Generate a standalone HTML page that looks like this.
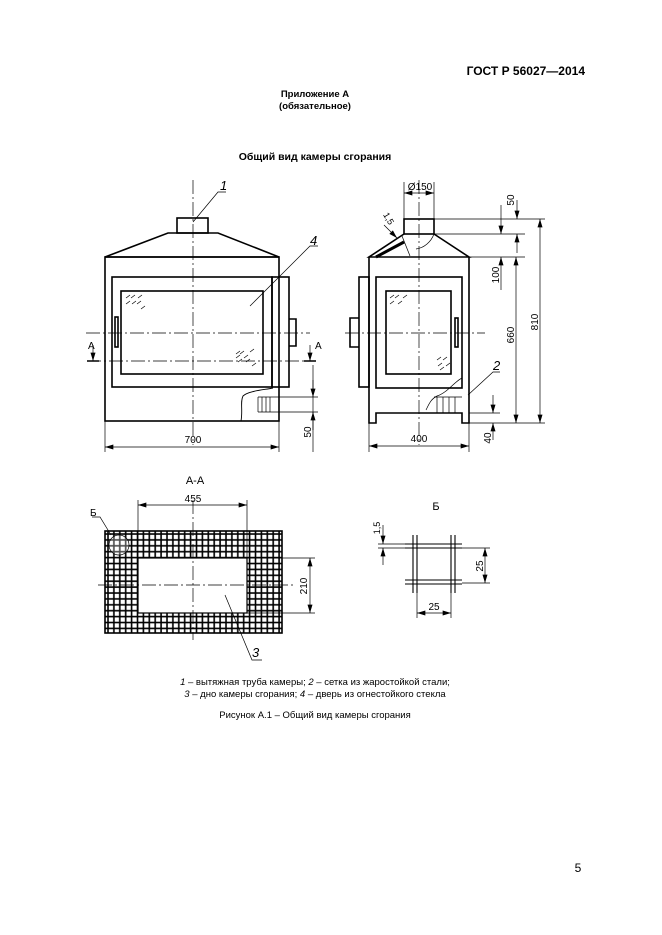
<!DOCTYPE html>
<html><head><meta charset="utf-8"><style>
html,body{margin:0;padding:0;background:#fff;}
svg{display:block;}
text{font-family:"Liberation Sans",sans-serif;fill:#000;}
</style></head><body>
<svg width="662" height="935" viewBox="0 0 662 935" xmlns="http://www.w3.org/2000/svg">
<defs>
<marker id="ar" viewBox="0 0 10 6" refX="10" refY="3" markerWidth="9" markerHeight="5" orient="auto-start-reverse" markerUnits="userSpaceOnUse"><path d="M0,0L10,3L0,6z" fill="#000"/></marker>
<pattern id="grid" x="105" y="531" width="5.9" height="5.9" patternUnits="userSpaceOnUse"><path d="M3,0V5.9M0,3H5.9" stroke="#000" stroke-width="1.6"/></pattern>
</defs>
<text x="585" y="75" font-size="12" font-weight="bold" text-anchor="end">ГОСТ Р 56027—2014</text>
<text x="315" y="97" font-size="9.5" font-weight="bold" text-anchor="middle">Приложение А</text>
<text x="315" y="109" font-size="9.5" font-weight="bold" text-anchor="middle">(обязательное)</text>
<text x="315" y="160" font-size="10.5" font-weight="bold" text-anchor="middle">Общий вид камеры сгорания</text>

<g fill="none" stroke="#000">
<!-- FRONT VIEW -->
<g stroke-width="1.6">
<rect x="177" y="218" width="31" height="15"/>
<path d="M168,233H218L279,257H105Z"/>
<rect x="105" y="257" width="174" height="164"/>
<rect x="112" y="277" width="160" height="110"/>
<rect x="121" y="291" width="142" height="83"/>
<rect x="272" y="277" width="17" height="110"/>
<path d="M289,319h7v27h-7"/>
<rect x="115" y="317" width="3" height="30"/>
</g>
<g stroke-width="0.7">
<path d="M193,180V445" stroke-dasharray="14,3,2,3"/>
<path d="M86,333H310M87,361H316" stroke-dasharray="14,3,2,3"/>
<path d="M273,388c-10,2-25,3-30,8c-3,6,0,14-2,25" stroke-width="0.9"/>
<path d="M258,397H318M258,412H318M258,397v15M262,397v15M266,397v15M270,397v15"/>
<path d="M313,365V452" />
<path d="M313,380V397" marker-end="url(#ar)"/><path d="M313,430V412" marker-end="url(#ar)"/>
<path d="M105,421V452M279,421V452"/>
<path d="M105,447H279" marker-start="url(#ar)" marker-end="url(#ar)"/>
<path d="M93,345V361" marker-end="url(#ar)"/><path d="M310,345V361" marker-end="url(#ar)"/>
<path d="M87,361h12M304,361h12" stroke-width="1.6"/>
<path d="M193,222L218,192H226M250,306L310,246H318"/>
<path d="M236,354l4,-3M240,354l4,-3M236,358l4,-3M244,358l4,-3M238,362l4,-3M246,362l4,-3M250,352l4,-3M252,366l4,-3M126,298l4,-3M131,298l4,-3M126,304l4,-3M132,304l4,-3M137,304l4,-3M138,298l4,-3M141,309l4,-3"/>
</g>
<!-- SIDE VIEW -->
<g stroke-width="1.6">
<rect x="404" y="219" width="30" height="15"/>
<path d="M404,234L369,257H469L434,234"/>
<path d="M369,257V423H376V413H462V423H469V257"/>
<rect x="376" y="277" width="86" height="111"/>
<rect x="386" y="291" width="65" height="83"/>
<rect x="359" y="277" width="10" height="110"/>
<path d="M359,318h-9v29h9"/>
<rect x="455" y="318" width="3" height="29"/>
<path d="M376,257L404,242" stroke-width="3"/>
</g>
<g stroke-width="0.7">
<path d="M419,180V445M345,333H485" stroke-dasharray="14,3,2,3"/>
<path d="M434,234c-3,8-10,14-18,15" />
<path d="M404,219V182M434,219V182"/>
<path d="M404,193H434" marker-start="url(#ar)" marker-end="url(#ar)"/>
<path d="M434,219H545M434,234H525M469,257H525M469,413H500M469,423H545"/>
<path d="M517,200V219" marker-end="url(#ar)"/><path d="M517,253V234" marker-end="url(#ar)"/>
<path d="M501,205V234" marker-end="url(#ar)"/><path d="M501,290V257" marker-end="url(#ar)"/>
<path d="M516,257V423" marker-start="url(#ar)" marker-end="url(#ar)"/>
<path d="M540,219V423" marker-start="url(#ar)" marker-end="url(#ar)"/>
<path d="M493,395V413" marker-end="url(#ar)"/><path d="M493,440V423" marker-end="url(#ar)"/>
<path d="M369,423V452M469,423V452"/>
<path d="M369,446H469" marker-start="url(#ar)" marker-end="url(#ar)"/>
<path d="M384,225L397,238" marker-end="url(#ar)"/><path d="M402,236L410,256"/>
<path d="M462,378c-8,4-15,15-25,18c-6,3-8,8-11,14"/>
<path d="M434,397H462M437,397v16M443,397v16M449,397v16M455,397v16"/>
<path d="M468,395L493,372H500"/>
<path d="M437,360l4,-3M443,360l4,-3M438,366l4,-3M446,366l4,-3M440,370l4,-3M390,298l4,-3M395,298l4,-3M390,304l4,-3M398,304l4,-3M403,298l4,-3"/>
</g>
</g>
<g font-size="10">
<text x="220" y="190" font-style="italic" font-size="13">1</text>
<text x="310" y="245" font-style="italic" font-size="13">4</text>
<text x="493" y="370" font-style="italic" font-size="13">2</text>
<text x="193" y="443" text-anchor="middle">700</text>
<text x="419" y="442" text-anchor="middle">400</text>
<text x="420" y="190" text-anchor="middle">Ø150</text>
<text x="88" y="349">А</text><text x="315" y="349">А</text>
<text transform="translate(311,432) rotate(-90)" text-anchor="middle">50</text>
<text transform="translate(514,200) rotate(-90)" text-anchor="middle">50</text>
<text transform="translate(499,275) rotate(-90)" text-anchor="middle">100</text>
<text transform="translate(514,335) rotate(-90)" text-anchor="middle">660</text>
<text transform="translate(538,322) rotate(-90)" text-anchor="middle">810</text>
<text transform="translate(491,438) rotate(-90)" text-anchor="middle">40</text>
<text transform="translate(386,220) rotate(60)" text-anchor="middle" font-size="9">1,5</text>
</g>

<!-- SECTION A-A -->
<text x="195" y="484" font-size="11" text-anchor="middle">А-А</text>
<rect x="105" y="531" width="177" height="102" fill="url(#grid)"/>
<rect x="105" y="531" width="177" height="102" fill="none" stroke="#000" stroke-width="1.6"/>
<rect x="138" y="558" width="109" height="55" fill="#fff" stroke="#000" stroke-width="1.2"/>
<g fill="none" stroke="#000" stroke-width="0.7">
<path d="M193,500V640M98,585H295" stroke-dasharray="14,3,2,3"/>
<path d="M138,500V558M247,500V558"/>
<path d="M138,505H247" marker-start="url(#ar)" marker-end="url(#ar)"/>
<path d="M247,558H315M247,613H315"/>
<path d="M310,558V613" marker-start="url(#ar)" marker-end="url(#ar)"/>
<circle cx="119" cy="545" r="10" fill="#fff" fill-opacity="0.3"/>
<path d="M92,517H100L111,535M225,595L252,660H262"/>
</g>
<text x="193" y="502" font-size="10" text-anchor="middle">455</text>
<text transform="translate(307,586) rotate(-90)" font-size="10" text-anchor="middle">210</text>
<text x="90" y="516" font-size="10">Б</text>
<text x="252" y="657" font-size="13" font-style="italic">3</text>

<!-- DETAIL Б -->
<text x="436" y="510" font-size="11" text-anchor="middle">Б</text>
<g fill="none" stroke="#000" stroke-width="1.1">
<path d="M405,544H462M405,548H462M405,580H462M405,584H462M413,535V593M417,535V593M451,535V593M455,535V593"/>
<g stroke-width="0.7">
<path d="M383,525V544" marker-end="url(#ar)"/><path d="M383,565V548" marker-end="url(#ar)"/>
<path d="M378,544H405M378,548H405M462,548H490M462,583H490"/>
<path d="M485,548V583" marker-start="url(#ar)" marker-end="url(#ar)"/>
<path d="M417,593V618M451,593V618"/>
<path d="M417,613H451" marker-start="url(#ar)" marker-end="url(#ar)"/>
</g></g>
<g font-size="10">
<text transform="translate(380,528) rotate(-90)" text-anchor="middle" font-size="9">1,5</text>
<text transform="translate(483,566) rotate(-90)" text-anchor="middle">25</text>
<text x="434" y="610" text-anchor="middle">25</text>
</g>

<g font-size="9.5" text-anchor="middle">
<text x="315" y="685"><tspan font-style="italic">1</tspan> – вытяжная труба камеры; <tspan font-style="italic">2</tspan> – сетка из жаростойкой стали;</text>
<text x="315" y="697"><tspan font-style="italic">3</tspan> – дно камеры сгорания; <tspan font-style="italic">4</tspan> – дверь из огнестойкого стекла</text>
<text x="315" y="718">Рисунок А.1 – Общий вид камеры сгорания</text>
</g>
<text x="578" y="872" font-size="12" text-anchor="middle">5</text>
</svg>
</body></html>
